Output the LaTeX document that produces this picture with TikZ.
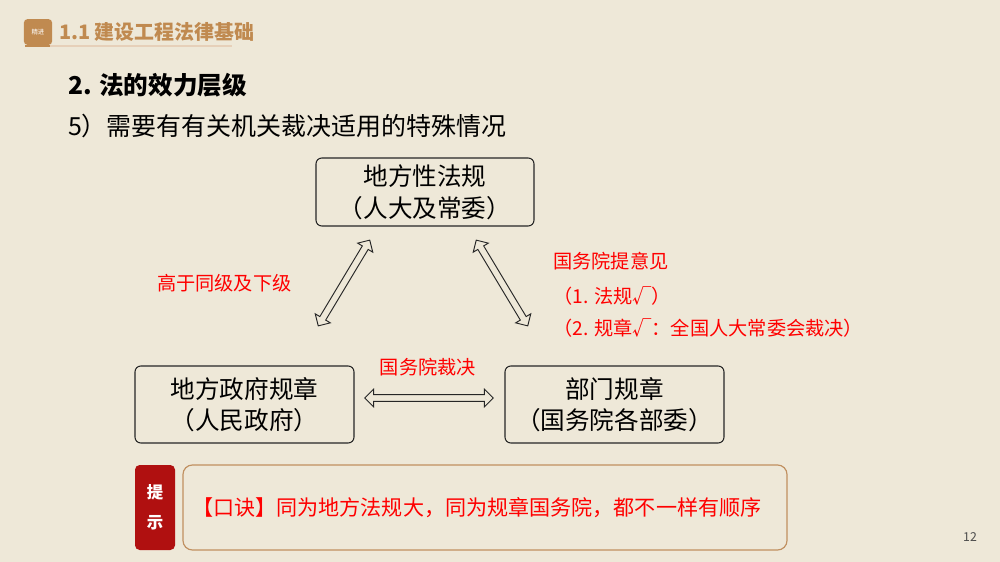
\documentclass[tikz,border=0pt]{standalone}
\usepackage{fontspec}
\setmainfont{Noto Sans CJK SC}
\usetikzlibrary{shapes.arrows}
\definecolor{bg}{HTML}{EEE8D8}
\definecolor{gold}{HTML}{C08A50}
\definecolor{dred}{HTML}{B01010}
\definecolor{tipb}{HTML}{C09060}
\tikzset{
 box/.style={draw=black!85,line width=0.9pt,rounded corners=5pt,align=center,font=\fontsize{21}{27}\selectfont},
 red/.style={text=red,font=\fontsize{16.4}{19}\selectfont,anchor=west},
 darr/.style={double arrow,draw=black!85,fill=bg,line width=0.8pt,minimum height=#1,minimum width=15pt,double arrow head extend=3pt,inner sep=1.5pt},
}
\begin{document}
\begin{tikzpicture}[x=0.03cm,y=-0.03cm]
\fill[bg] (0,0) rectangle (1000,562);
\useasboundingbox (0,0) rectangle (1000,562);
\node[fill=gold,rounded corners=3pt,minimum width=24pt,minimum height=22pt,inner sep=0,text=white,font=\fontsize{5.5}{6}\selectfont] (icon) at (38,32) {精进};
\draw[gold,line width=2pt] (25,46) -- (50,46);
\draw[gold!40,line width=1pt] (50,46) -- (232,46);
\node[anchor=west,text=gold,font=\bfseries\fontsize{17}{20}\selectfont] (hdr) at (55,32) {1.1 建设工程法律基础};
\node[anchor=west,font=\bfseries\fontsize{21}{24}\selectfont] (t1) at (64,85) {2. 法的效力层级};
\node[anchor=west,font=\fontsize{21.3}{24}\selectfont] (t2) at (64,126) {5）需要有有关机关裁决适用的特殊情况};
\node[box,minimum width=218*0.03cm,minimum height=68*0.03cm] (top) at (425,192) {地方性法规\\（人大及常委）};
\node[box,minimum width=219*0.03cm,minimum height=77*0.03cm] (left) at (244.5,404.5) {地方政府规章\\（人民政府）};
\node[box,minimum width=219*0.03cm,minimum height=77*0.03cm] (right) at (614.5,404.5) {部门规章\\（国务院各部委）};
\node[darr=3cm,rotate=59] (a1) at (344,283) {};
\node[darr=3cm,rotate=-59] (a2) at (502,283) {};
\node[darr=3.85cm] (a3) at (429,398) {};
\node[red] (l1) at (153,283) {高于同级及下级};
\node[red] (l2) at (549,261) {国务院提意见};
\node[red] (l3) at (549,296) {（1. 法规√）};
\node[red] (l4) at (549,328) {（2. 规章√：全国人大常委会裁决）};
\node[red,anchor=center] (l5) at (428,367) {国务院裁决};
\node[fill=dred,rounded corners=4pt,minimum width=40*0.03cm,minimum height=85*0.03cm,text=white,align=center,font=\bfseries\fontsize{14}{26}\selectfont] (tip) at (155,507.5) {提\\示};
\node[draw=tipb,line width=1pt,rounded corners=8pt,minimum width=604*0.03cm,minimum height=85*0.03cm] (kj) at (485,507.5) {};
\node[anchor=west,text=red,font=\fontsize{18}{22}\selectfont] (kjt) at (188,508) {【口诀】同为地方法规大，同为规章国务院，都不一样有顺序};
\node[text=black!70,font=\fontsize{10.5}{11}\selectfont] (pg) at (970,537) {12};
\end{tikzpicture}
\end{document}
